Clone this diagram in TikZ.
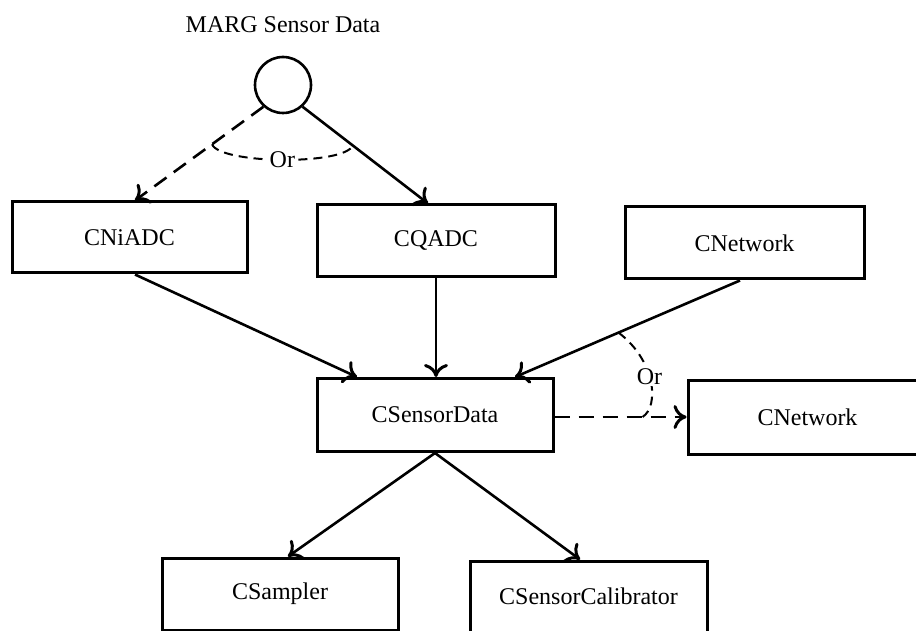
\documentclass[tikz,border=0pt]{standalone}
\usepackage{fontspec}
\setmainfont{Liberation Serif}
\usetikzlibrary{arrows.meta,calc}
\begin{document}
\begin{tikzpicture}[x=1pt,y=-1pt,
  txt/.style={font=\fontsize{24}{28}\selectfont},
  box/.style={draw,line width=3pt,minimum width=#1,minimum height=72pt,inner sep=0pt,txt},
  conn/.style={line width=2.6pt,-{Computer Modern Rightarrow[length=13pt,width=24pt,line width=3pt]}},
  dashconn/.style={conn,dash pattern=on 15pt off 9pt},
  orarc/.style={line width=2pt,dash pattern=on 9pt off 6pt},
  orlabel/.style={fill=white,inner sep=2pt,txt}]
\useasboundingbox (0,0) rectangle (916,631);
% nodes
\node[txt] (title) at (283,25) {MARG Sensor Data};
\node[circle,draw,line width=2.6pt,minimum size=56pt,inner sep=0pt] (src) at (283,85) {};
\node[box=235pt,minimum height=71pt] (cni) at (129.5,237.5) {CNiADC};
\node[box=238pt] (cqa) at (436,241) {CQADC};
\node[box=239pt] (cnt) at (744.5,243) {CNetwork};
\node[box=236pt,minimum height=73pt] (csd) at (435,415) {CSensorData};
\node[box=239pt,minimum height=74pt] (cnr) at (807.5,417) {CNetwork};
\node[box=236pt] (csa) at (280,594) {CSampler};
\node[box=237pt,minimum height=71pt] (cal) at (588.5,596.5) {CSensorCalibrator};
% connector end points
\coordinate (t1) at ([xshift=5.5pt]cni.north);
\coordinate (t2) at ([xshift=-8pt]cqa.north);
\coordinate (s3) at ([xshift=5.5pt]cni.south);
\coordinate (t3) at ([xshift=-78pt]csd.north);
\coordinate (s5) at ([xshift=-4.5pt]cnt.south);
\coordinate (t5) at ([xshift=80pt]csd.north);
\coordinate (s6) at (csd.east |- cnr.west);
% connectors
\draw[dashconn] (src.-132) -- (t1);
\draw[conn] (src.-48) -- (t2);
\draw[conn] (s3) -- (t3);
\draw[conn] (cqa.south) -- (cqa.south |- csd.north);
\draw[conn] (s5) -- (t5);
\draw[dashconn] (s6) -- (cnr.west);
\draw[conn] (csd.south) -- ([xshift=8pt]csa.north);
\draw[conn] (csd.south) -- ([xshift=-8.5pt]cal.north);
% Or arcs
\coordinate (l1) at ($(src.-132)!0.4!(t1)$);
\coordinate (r1) at ($(src.-48)!0.4!(t2)$);
\draw[orarc] (l1) .. controls ($(l1)+(8,20)$) and ($(r1)+(-8,20)$) .. (r1);
\node[orlabel] (or1) at ($(l1)!0.5!(r1)+(0,15)$) {Or};
\coordinate (a2) at ($(s5)!0.54!(t5)$);
\coordinate (b2) at ($(s6)!0.667!(cnr.west)$);
\draw[orarc] (a2) .. controls ($(a2)+(37,28)$) and ($(b2)+(17,-11)$) .. (b2) node[pos=0.45,orlabel] (or2) {Or};
\end{tikzpicture}
\end{document}
